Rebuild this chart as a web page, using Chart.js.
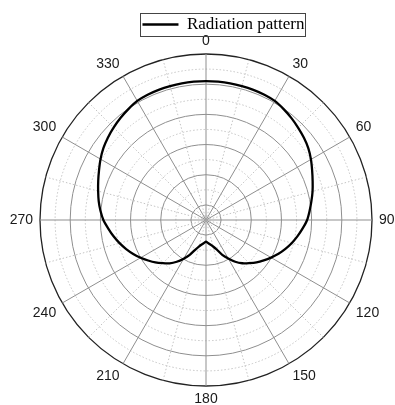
<!DOCTYPE html>
<html>
<head>
<meta charset="utf-8">
<script src="https://cdn.jsdelivr.net/npm/chart.js@4/dist/chart.umd.min.js"></script>
<style>
  html, body { margin: 0; padding: 0; background: #fff; overflow: hidden; }
  #wrap { width: 395px; height: 405px; position: relative; }
</style>
</head>
<body>
<div id="wrap"><canvas id="c"></canvas></div>
<script>
// Azimuth angles (degrees, clockwise from top) at which the pattern is sampled
const angles = [
  0, 5, 10, 15, 20, 25, 30, 35, 40, 45, 50, 55,
  60, 65, 70, 75, 80, 85, 90, 95, 100, 105, 110, 115,
  120, 125, 130, 135, 140, 145, 150, 155, 160, 165, 170, 175,
  180, 185, 190, 195, 200, 205, 210, 215, 220, 225, 230, 235,
  240, 245, 250, 255, 260, 265, 270, 275, 280, 285, 290, 295,
  300, 305, 310, 315, 320, 325, 330, 335, 340, 345, 350, 355
];

// Radiation pattern magnitude at each azimuth
const pattern = [
  9.20, 9.20, 9.20, 9.19, 9.18, 9.16, 9.11, 8.97, 8.81, 8.64, 8.47, 8.28,
  8.03, 7.76, 7.52, 7.31, 7.09, 6.89, 6.70, 6.43, 6.16, 5.89, 5.60, 5.30,
  4.98, 4.67, 4.37, 4.04, 3.74, 3.38, 2.95, 2.55, 2.08, 1.82, 1.65, 1.53,
  1.44, 1.53, 1.65, 1.82, 2.10, 2.55, 2.96, 3.38, 3.75, 4.05, 4.38, 4.68,
  5.00, 5.32, 5.63, 5.93, 6.22, 6.50, 6.80, 7.02, 7.22, 7.40, 7.60, 7.82,
  8.07, 8.30, 8.49, 8.66, 8.82, 8.97, 9.11, 9.16, 9.18, 9.19, 9.20, 9.20
];

// Angle labels printed around the rim
const angleTickLabels = ['0', '30', '60', '90', '120', '150', '180', '210', '240', '270', '300', '330'];

// Radial range and ring step
const radialMin = 0;
const radialMax = 11;
const radialStep = 1;

// Placement of the polar plot inside the canvas
const plotCenterX = 206;
const plotCenterY = 220;
const plotRadius = 166;

// Pins the polar area to a fixed centre/radius (rim labels follow it)
const polarPlacement = {
  id: 'polarPlacement',
  afterLayout(chart) {
    const s = chart.scales.r;
    if (!s) return;
    const dx = plotCenterX - s.xCenter;
    const dy = plotCenterY - s.yCenter;
    const dR = plotRadius - s.drawingArea;
    (s._pointLabelItems || []).forEach((it, i) => {
      const a = s.getIndexAngle(i) - Math.PI / 2;
      const ox = dx + dR * Math.cos(a);
      const oy = dy + dR * Math.sin(a);
      it.x += ox; it.left += ox; it.right += ox;
      it.y += oy; it.top += oy; it.bottom += oy;
    });
    s.xCenter = plotCenterX;
    s.yCenter = plotCenterY;
    s.drawingArea = plotRadius;
  }
};

// Moves the legend entry to the right / down and frames it
const legendFrame = {
  id: 'legendFrame',
  afterUpdate(chart) {
    const lg = chart.legend;
    if (!lg) return;
    const dx = 22, dy = 7;
    lg.left += dx; lg.right += dx;
    lg.top += dy; lg.bottom += dy;
    (lg.legendHitBoxes || []).forEach(h => { h.left += dx; h.top += dy; });
  },
  afterDraw(chart) {
    const boxes = chart.legend && chart.legend.legendHitBoxes;
    if (!boxes || !boxes.length) return;
    const b = boxes[0];
    const cy = b.top + b.height / 2;
    const ctx = chart.ctx;
    ctx.save();
    ctx.strokeStyle = '#444';
    ctx.lineWidth = 1;
    ctx.strokeRect(Math.round(b.left - 2) + 0.5, Math.round(cy - 12) + 0.5,
                   Math.round(b.width + 3), 23);
    ctx.restore();
  }
};

new Chart(document.getElementById('c'), {
  type: 'radar',
  data: {
    labels: angles.map(String),
    datasets: [{
      label: 'Radiation pattern',
      data: pattern,
      borderColor: '#000',
      borderWidth: 2.3,
      backgroundColor: 'rgba(0,0,0,0)',
      fill: false,
      pointRadius: 0,
      pointHoverRadius: 0,
      tension: 0.2
    }]
  },
  options: {
    responsive: true,
    maintainAspectRatio: false,
    animation: false,
    events: [],
    layout: { padding: { top: 3, left: 8, right: 0, bottom: 0 } },
    plugins: {
      tooltip: { enabled: false },
      legend: {
        position: 'top',
        labels: {
          usePointStyle: true,
          pointStyle: 'line',
          pointStyleWidth: 36,
          color: '#000',
          padding: 6,
          font: { family: '"Liberation Serif", "Times New Roman", serif', size: 17 }
        }
      }
    },
    scales: {
      r: {
        min: radialMin,
        max: radialMax,
        startAngle: 0,
        ticks: { display: false, stepSize: radialStep },
        grid: {
          circular: true,
          color: (ctx) => {
            const v = ctx.tick ? ctx.tick.value : 0;
            if (v === radialMax) return '#222';
            return v % 2 === 1 ? '#8f8f8f' : '#c4c4c4';
          },
          lineWidth: (ctx) => (ctx.tick && ctx.tick.value === radialMax ? 1.3 : 1)
        },
        border: {
          dash: (ctx) => {
            const v = ctx.tick ? ctx.tick.value : 0;
            return (v % 2 === 0 && v !== radialMax) ? [1.5, 2] : [];
          }
        },
        angleLines: {
          display: true,
          color: (ctx) => {
            if (ctx.index % 6 === 0) return '#8f8f8f';
            if (ctx.index % 3 === 0) return '#c4c4c4';
            return 'rgba(0,0,0,0)';
          },
          lineWidth: (ctx) => (ctx.index % 3 === 0 ? 1 : 0),
          borderDash: (ctx) => (ctx.index % 6 === 0 ? [] : [1.5, 2])
        },
        pointLabels: {
          display: true,
          padding: 7,
          color: '#1a1a1a',
          font: { family: '"Liberation Sans", Arial, sans-serif', size: 14, lineHeight: 0.9 },
          callback: (label) => (angleTickLabels.includes(label) ? label : '')
        }
      }
    }
  },
  plugins: [legendFrame, polarPlacement]
});
</script>
</body>
</html>
